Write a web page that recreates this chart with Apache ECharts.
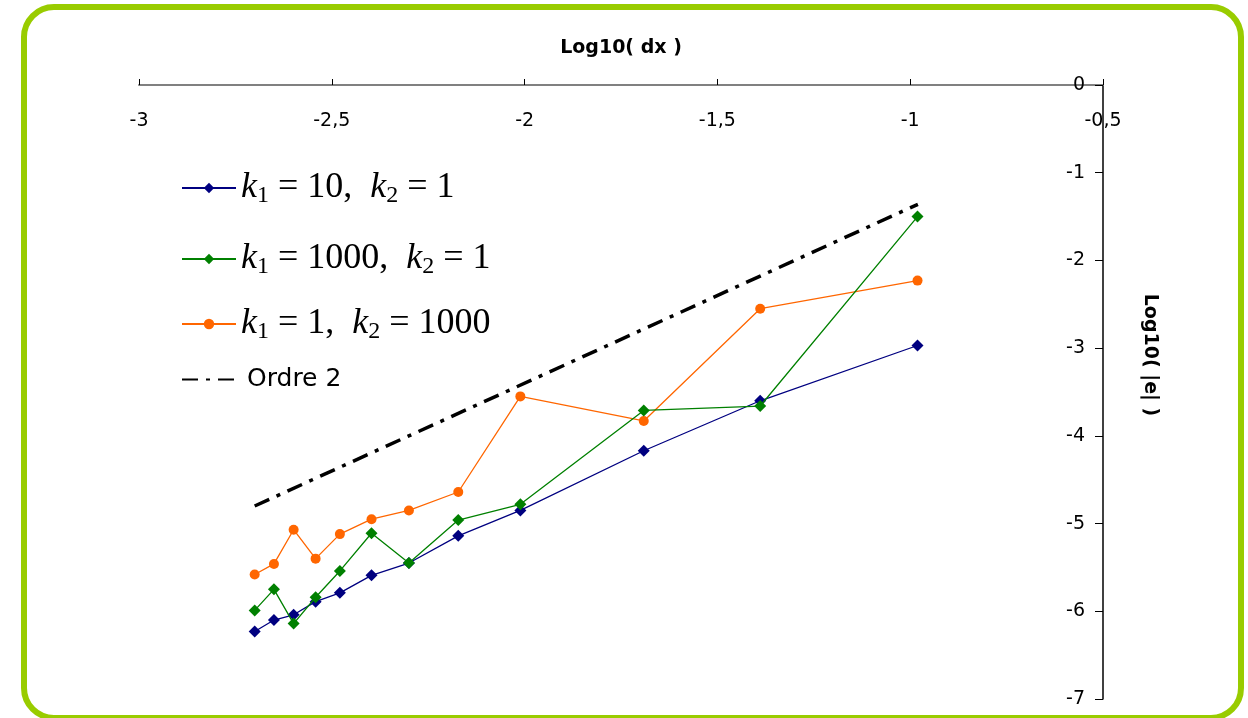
<!DOCTYPE html>
<html>
<head>
<meta charset="utf-8">
<script src="https://cdn.jsdelivr.net/npm/echarts@6/dist/echarts.min.js"></script>
<style>
html,body{margin:0;padding:0;background:#fff;}
#frame{position:absolute;left:21px;top:4px;width:1223px;height:717px;box-sizing:border-box;border:6px solid #99CC00;border-radius:33px;}
#chart{position:absolute;left:0;top:0;width:1248px;height:718px;}
</style>
</head>
<body>
<div id="frame"></div>
<div id="chart"></div>
<script>
// ---- data ----
var xTicks = [-3, -2.5, -2, -1.5, -1, -0.5];
var yTicks = [-7, -6, -5, -4, -3, -2, -1, 0];
var logDx = [-2.700, -2.650, -2.599, -2.542, -2.479, -2.397, -2.300, -2.172, -2.011, -1.691, -1.389, -0.981];
var k10_1 = [-6.23, -6.10, -6.04, -5.89, -5.79, -5.59, -5.45, -5.14, -4.85, -4.17, -3.60, -2.97];
var k1000_1 = [-5.99, -5.75, -6.14, -5.84, -5.54, -5.11, -5.45, -4.96, -4.78, -3.71, -3.66, -1.50];
var k1_1000 = [-5.58, -5.46, -5.07, -5.40, -5.12, -4.95, -4.85, -4.64, -3.55, -3.83, -2.55, -2.23];
var ordreX = [-2.70, -0.98];
var ordreY = [-4.80, -1.36];

function pairs(xs, ys){ return xs.map(function(x,i){ return [x, ys[i]]; }); }

var SANS = 'DejaVu Sans';
var SERIF = 'Liberation Serif';
var EQ = ' = ';
var richTex = {
  i: {fontFamily: SERIF, fontStyle: 'italic', fontSize: 36, lineHeight: 40, color: '#000'},
  s: {fontFamily: SERIF, fontSize: 24, lineHeight: 24, verticalAlign: 'bottom', color: '#000'},
  n: {fontFamily: SERIF, fontSize: 36, lineHeight: 40, color: '#000'},
  o: {fontFamily: SANS, fontSize: 25, lineHeight: 40, color: '#000'}
};
var legendText = {
  'k1=10,k2=1': '{i|k}{s|1}{n|' + EQ + '10,  }{i|k}{s|2}{n|' + EQ + '1}',
  'k1=1000,k2=1': '{i|k}{s|1}{n|' + EQ + '1000,  }{i|k}{s|2}{n|' + EQ + '1}',
  'k1=1,k2=1000': '{i|k}{s|1}{n|' + EQ + '1,  }{i|k}{s|2}{n|' + EQ + '1000}',
  'Ordre 2': '{o|Ordre 2}'
};
function mkLegend(name, top, left, extra){
  var l = {
    data: [name], left: left, top: top, orient: 'vertical',
    itemWidth: 54, itemHeight: 13, itemGap: 0, padding: 0,
    selectedMode: false,
    formatter: function(n){ return legendText[n]; },
    textStyle: {rich: richTex}
  };
  if (extra) for (var k in extra) l[k] = extra[k];
  return l;
}

var chart = echarts.init(document.getElementById('chart'), null, {renderer: 'canvas'});
chart.setOption({
  animation: false,
  backgroundColor: 'transparent',
  grid: {left: 139, right: 145, top: 85, bottom: 19, containLabel: false},
  legend: [
    mkLegend('k1=10,k2=1', 170, 181),
    mkLegend('k1=1000,k2=1', 241, 181),
    mkLegend('k1=1,k2=1000', 306, 181),
    mkLegend('Ordre 2', 367, 181, {itemStyle: {opacity: 0}, textStyle: {rich: richTex, padding: [0, 0, 0, 6]}})
  ],
  xAxis: {
    type: 'value', position: 'top', min: -3, max: -0.5, interval: 0.5,
    name: 'Log10( dx )', nameLocation: 'middle', nameGap: 27,
    nameTextStyle: {fontFamily: SANS, fontWeight: 'bold', fontSize: 19, color: '#000'},
    axisLine: {onZero: false, lineStyle: {color: '#808080', width: 2}},
    axisTick: {show: true, inside: false, length: 6, lineStyle: {color: '#000', width: 1}},
    axisLabel: {inside: true, margin: 27, fontFamily: SANS, fontSize: 19, color: '#000',
      formatter: function(v){ return String(v).replace('.', ','); }},
    splitLine: {show: false}
  },
  yAxis: {
    type: 'value', position: 'right', min: -7, max: 0, interval: 1,
    axisLine: {onZero: false, lineStyle: {color: '#000', width: 1.5}},
    axisTick: {show: true, inside: true, length: 8, lineStyle: {color: '#000', width: 1}},
    axisLabel: {inside: true, margin: 18, fontFamily: SANS, fontSize: 19, color: '#000'},
    splitLine: {show: false}
  },
  graphic: [{
    type: 'text', x: 1150, y: 355, rotation: -Math.PI/2,
    style: {text: 'Log10( |e| )', font: 'bold 19px "DejaVu Sans"', fill: '#000', align: 'center', verticalAlign: 'middle'}
  }],
  series: [
    {name: 'k1=10,k2=1', type: 'line', data: pairs(logDx, k10_1), symbol: 'diamond', symbolSize: 12,
      itemStyle: {color: '#000080'}, lineStyle: {color: '#000080', width: 1.3}, z: 4},
    {name: 'k1=1000,k2=1', type: 'line', data: pairs(logDx, k1000_1), symbol: 'diamond', symbolSize: 12,
      itemStyle: {color: '#008000'}, lineStyle: {color: '#008000', width: 1.3}, z: 5},
    {name: 'k1=1,k2=1000', type: 'line', data: pairs(logDx, k1_1000), symbol: 'circle', symbolSize: 10,
      itemStyle: {color: '#FF6600'}, lineStyle: {color: '#FF6600', width: 1.3}, z: 3},
    {name: 'Ordre 2', type: 'line', data: pairs(ordreX, ordreY), symbol: 'none',
      itemStyle: {color: '#000'}, lineStyle: {color: '#000', width: 3.5, type: [16, 8, 4, 8]}, z: 2}
  ]
});
</script>
</body>
</html>
